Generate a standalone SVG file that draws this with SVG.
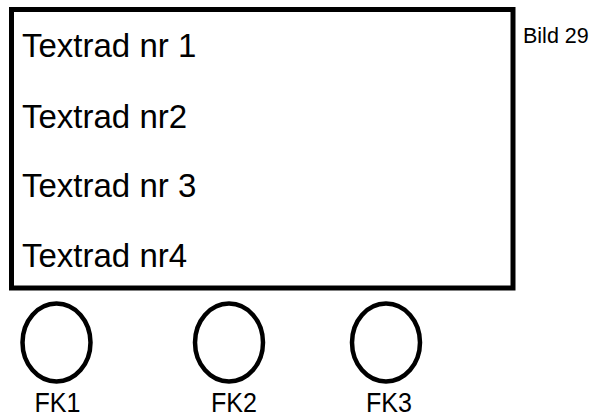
<svg xmlns="http://www.w3.org/2000/svg" width="596" height="418" viewBox="0 0 596 418">
<style>
.t{font-family:"Liberation Sans",Arial,sans-serif;fill:#000}
.big{font-size:33px}
.fk{font-size:27px}
.btn{fill:none;stroke:#000;stroke-width:4.5}
</style>
<rect width="596" height="418" fill="#fff"/>
<g id="display">
<rect x="11.5" y="9.5" width="501.5" height="278.5" fill="#fff" stroke="#000" stroke-width="5"/>
<text class="t big" x="22" y="57">Textrad nr 1</text>
<text class="t big" x="22" y="128">Textrad nr2</text>
<text class="t big" x="22" y="197">Textrad nr 3</text>
<text class="t big" x="22" y="267">Textrad nr4</text>
</g>
<g id="label"><text class="t" x="523" y="43" font-size="21.5">Bild 29</text></g>
<g id="fk1"><ellipse class="btn" cx="56.5" cy="342.5" rx="34" ry="39"/><text class="t fk" x="57.5" y="412" text-anchor="middle" textLength="46" lengthAdjust="spacingAndGlyphs">FK1</text></g>
<g id="fk2"><ellipse class="btn" cx="229" cy="342.5" rx="34" ry="39"/><text class="t fk" x="234" y="412" text-anchor="middle" textLength="46" lengthAdjust="spacingAndGlyphs">FK2</text></g>
<g id="fk3"><ellipse class="btn" cx="386" cy="342.5" rx="34" ry="39"/><text class="t fk" x="389" y="412" text-anchor="middle" textLength="46" lengthAdjust="spacingAndGlyphs">FK3</text></g>
<g id="connectors"/>
</svg>
